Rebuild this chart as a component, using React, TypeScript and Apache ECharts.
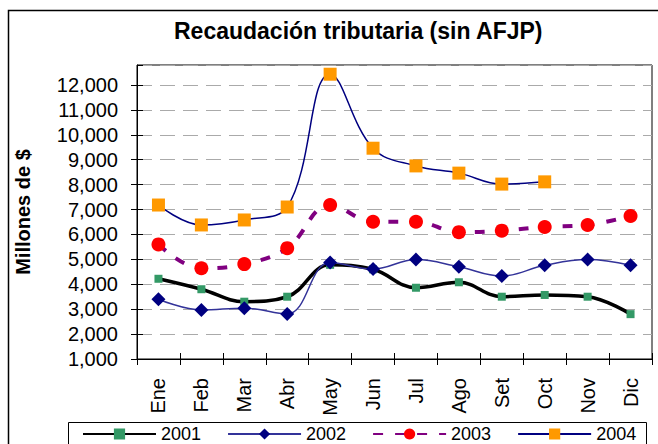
import React, { useEffect, useRef } from "react";
import * as echarts from "echarts";

const months = ["Ene", "Feb", "Mar", "Abr", "May", "Jun", "Jul", "Ago", "Set", "Oct", "Nov", "Dic"];
const s2001 = [4220, 3800, 3300, 3500, 4780, 4600, 3860, 4080, 3500, 3570, 3500, 2800];
const s2002 = [3400, 2970, 3040, 2810, 4870, 4610, 4990, 4700, 4330, 4760, 4990, 4760];
const s2003 = [5600, 4640, 4810, 5450, 7180, 6510, 6510, 6090, 6150, 6300, 6380, 6740];
const s2004 = [7180, 6380, 6580, 7100, 12430, 9460, 8750, 8460, 8020, 8110, null, null];
const seriesNames = ["2001", "2002", "2003", "2004"];

const FONT = "'Liberation Sans', Arial, sans-serif";

export default function App() {
  const ref = useRef<HTMLDivElement>(null);
  useEffect(() => {
    document.body.style.margin = "0";
    const chart = echarts.init(ref.current!, null, { renderer: "svg" });
    chart.setOption({
      animation: false,
      backgroundColor: "#ffffff",
      textStyle: { fontFamily: FONT },
      title: {
        text: "Recaudación tributaria (sin AFJP)",
        left: 174,
        top: 19,
        padding: 0,
        textStyle: { fontFamily: FONT, fontSize: 23, fontWeight: "bold", color: "#000" },
      },
      graphic: [
        { type: "rect", shape: { x: 8.5, y: 10.5, width: 700, height: 500 }, style: { fill: "none", stroke: "#000", lineWidth: 1.5 }, silent: true },
        { type: "rect", shape: { x: 68.5, y: 422.5, width: 578, height: 40 }, style: { fill: "none", stroke: "#000", lineWidth: 1 }, silent: true },
      ],
      legend: {
        data: seriesNames,
        left: 82,
        top: 425,
        padding: 0,
        itemWidth: 73,
        itemHeight: 14,
        itemGap: 26,
        textStyle: { fontFamily: FONT, fontSize: 18, color: "#000" },
      },
      grid: {
        left: 137,
        top: 65,
        right: 6,
        bottom: 85,
        show: true,
        borderColor: "#000",
        borderWidth: 1,
        backgroundColor: "transparent",
      },
      xAxis: [
        {
          type: "category",
          data: months,
          boundaryGap: true,
          axisLine: { lineStyle: { color: "#000", width: 1 } },
          axisTick: { show: true, length: 6, lineStyle: { color: "#000" } },
          axisLabel: { rotate: 90, margin: 19, fontFamily: FONT, fontSize: 20, color: "#000" },
        },
        {
          type: "category",
          data: months,
          position: "bottom",
          boundaryGap: true,
          axisLine: { show: false },
          axisTick: { show: true, inside: true, length: 6, lineStyle: { color: "#000" } },
          axisLabel: { show: false },
        },
      ],
      yAxis: [
        {
          type: "value",
          min: 1000,
          max: 12800,
          interval: 1000,
          name: "Millones de $",
          nameLocation: "middle",
          nameRotate: 90,
          nameGap: 104,
          nameTextStyle: { fontFamily: FONT, fontSize: 20, fontWeight: "bold", color: "#000" },
          axisLine: { show: true, lineStyle: { color: "#000", width: 1 } },
          axisTick: { show: true, length: 6, lineStyle: { color: "#000" } },
          axisLabel: {
            margin: 19,
            fontFamily: FONT,
            fontSize: 20,
            color: "#000",
            showMaxLabel: false,
            formatter: (v: number) => v.toLocaleString("en-US"),
          },
          splitLine: { show: true, lineStyle: { color: "#aaaaaa", type: [15, 8], width: 1 } },
        },
        {
          type: "value",
          min: 1000,
          max: 12800,
          interval: 1000,
          position: "left",
          axisLine: { show: false },
          axisTick: { show: true, inside: true, length: 6, lineStyle: { color: "#000" } },
          axisLabel: { show: false },
          splitLine: { show: false },
        },
      ],
      series: [
        {
          name: "2001",
          type: "line",
          data: s2001,
          smooth: 0.4,
          symbol: "rect",
          symbolSize: 8,
          lineStyle: { color: "#000", width: 3.5 },
          itemStyle: { color: "#339966" },
        },
        {
          name: "2002",
          type: "line",
          data: s2002,
          smooth: 0.4,
          symbol: "diamond",
          symbolSize: 14,
          lineStyle: { color: "#333399", width: 1.5 },
          itemStyle: { color: "#000080" },
        },
        {
          name: "2003",
          type: "line",
          data: s2003,
          smooth: 0.4,
          symbol: "circle",
          symbolSize: 14,
          lineStyle: { color: "#800080", width: 4, type: [10, 12] },
          itemStyle: { color: "#ff0000" },
        },
        {
          name: "2004",
          type: "line",
          data: s2004,
          smooth: 0.4,
          symbol: "rect",
          symbolSize: 13,
          lineStyle: { color: "#000080", width: 1.5 },
          itemStyle: { color: "#ff9900" },
        },
      ],
    });
    return () => chart.dispose();
  }, []);
  return <div ref={ref} style={{ position: "fixed", left: 0, top: 0, width: 658, height: 444 }} />;
}
